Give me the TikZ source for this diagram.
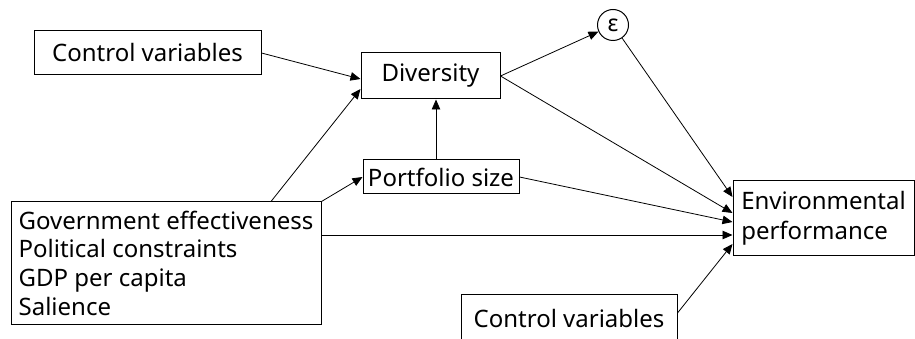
\documentclass[tikz,border=0pt]{standalone}
\usepackage{fontspec}
\setmainfont{Noto Sans}
\usetikzlibrary{arrows.meta}
\begin{document}
\begin{tikzpicture}[x=1pt,y=-1pt,
  box/.style={draw, line width=1pt, inner sep=0pt, align=left,
    font=\fontsize{24}{30}\selectfont},
  arr/.style={line width=0.8pt, -{Triangle[length=10pt,width=8.5pt]}},
  ln/.style={line width=0.8pt}]
\useasboundingbox (0,0) rectangle (915,339);
\clip (0,0) rectangle (915,339);
\node[box, minimum width=227pt, minimum height=44pt] (ctrlA) at (147.5,53) {Control variables};
\node[box, minimum width=139pt, minimum height=46pt] (div) at (430.5,76) {Diversity};
\node[draw, circle, line width=1pt, minimum size=31pt, inner sep=0pt,
  font=\fontsize{23}{24}\selectfont] (eps) at (613,25) {ε};
\node[box, minimum width=156pt, minimum height=34pt] (port) at (441,177) {Portfolio size};
\node[box, minimum width=310pt, minimum height=122pt,
  font=\fontsize{24}{28.7}\selectfont] (gov) at (166,263)
  {Government effectiveness\\Political constraints\\GDP per capita\\Salience};
\node[box, minimum width=181pt, minimum height=74pt] (env) at (823.5,218)
  {Environmental\\performance};
\node[draw, line width=1pt, minimum width=216pt, minimum height=60pt, inner sep=0pt] (ctrlB) at (569,324) {};
\node[font=\fontsize{24}{30}\selectfont, anchor=base] (ctrlBt) at (569,327) {Control variables};

\draw[arr] (ctrlA.east) -- ([yshift=-3pt]div.west);
\draw[arr] ([xshift=105pt]gov.north) -- ([yshift=-13pt]div.west);
\draw[arr] (gov.north east) -- (port.west);
\draw[arr] ([yshift=28pt]gov.east) -- ([yshift=-17pt]env.west);
\draw[arr] ([xshift=-5pt]port.north) -- ([xshift=-5pt]port.north |- div.south);
\draw[arr] (port.east) -- ([yshift=-4pt]env.west);
\draw[arr] (div.east) -- (eps);
\draw[arr] (div.east) -- ([yshift=5pt]env.west);
\draw[arr] (eps) -- ([yshift=21pt]env.west);
\draw[arr] ([yshift=11pt]ctrlB.east) -- ([yshift=-26pt]env.west);
\end{tikzpicture}
\end{document}
